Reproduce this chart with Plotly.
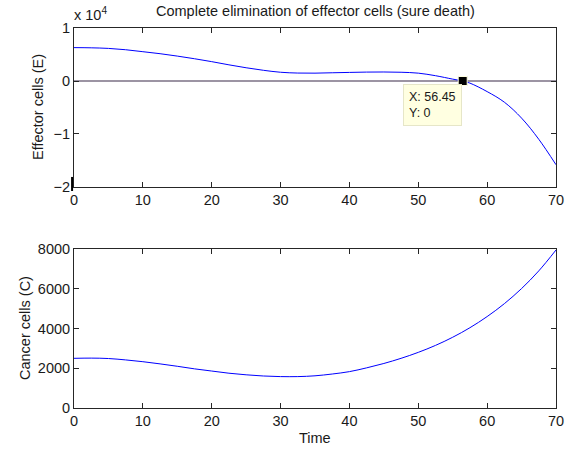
import plotly.graph_objects as go

# ---- data ----
t_E = [0, 2.5, 5, 7.5, 10, 12.5, 15, 17.5, 20, 22.5, 25, 27.5, 30, 32.5, 35, 37.5,
       40, 42.5, 45, 47.5, 50, 52.5, 55, 56.45, 57.5, 60, 62.5, 65, 67.5, 70]
E_vals = [6300, 6260, 6150, 5900, 5530, 5150, 4700, 4200, 3650, 3050, 2500, 2020, 1650,
          1500, 1480, 1550, 1620, 1680, 1700, 1650, 1480, 1000, 350, 0, -400, -2000,
          -4000, -7000, -11000, -15800]

t_C = [0, 2.5, 5, 7.5, 10, 12.5, 15, 17.5, 20, 22.5, 25, 27.5, 30, 32.5, 35, 37.5,
       40, 42.5, 45, 47.5, 50, 52.5, 55, 57.5, 60, 62.5, 65, 67.5, 70]
C_vals = [2500, 2510, 2490, 2420, 2330, 2220, 2100, 1970, 1860, 1750, 1670, 1610, 1580,
          1580, 1620, 1710, 1830, 2020, 2240, 2500, 2800, 3150, 3560, 4040, 4600, 5250,
          6010, 6900, 7950]

zero_t = [0, 70]
zero_E = [0, 0]
tip_x = [56.45]
tip_y = [0]

x_ticks = [0, 10, 20, 30, 40, 50, 60, 70]
E_ticks = [-20000, -10000, 0, 10000]
E_ticktext = ["\u22122", "\u22121", "0", "1"]
C_ticks = [0, 2000, 4000, 6000, 8000]

FONT = "Liberation Sans, Arial, sans-serif"
AX = "#262626"
TXT = "#1a1a1a"
FS = 14.5

fig = go.Figure()
fig.add_trace(go.Scatter(x=zero_t, y=zero_E, mode="lines",
                         line=dict(color="#7b7184", width=1.5),
                         xaxis="x", yaxis="y", hoverinfo="skip"))
fig.add_trace(go.Scatter(x=t_E, y=E_vals, mode="lines", line_shape="spline",
                         line=dict(color="#0000ff", width=1),
                         xaxis="x", yaxis="y"))
fig.add_trace(go.Scatter(x=tip_x, y=tip_y, mode="markers",
                         marker=dict(symbol="square", size=9, color="black",
                                     line=dict(color="#ffffe1", width=1)),
                         xaxis="x", yaxis="y", cliponaxis=False))
fig.add_trace(go.Scatter(x=t_C, y=C_vals, mode="lines", line_shape="spline",
                         line=dict(color="#0000ff", width=1),
                         xaxis="x2", yaxis="y2"))

axis_common = dict(showline=True, linecolor=AX, linewidth=1, mirror="ticks",
                   ticks="inside", ticklen=5, tickcolor=AX, showgrid=False,
                   zeroline=False, automargin=False,
                   tickfont=dict(family=FONT, size=FS, color=TXT))

fig.update_layout(
    template="none",
    width=567, height=449,
    margin=dict(l=74, r=11, t=28, b=41),
    paper_bgcolor="white", plot_bgcolor="white",
    showlegend=False,
    xaxis=dict(domain=[0, 1], range=[0, 70], tickvals=x_ticks, anchor="y", **axis_common),
    yaxis=dict(domain=[0.5816, 1.0], range=[-20000, 10000], tickvals=E_ticks,
               ticktext=E_ticktext, anchor="x", **axis_common),
    xaxis2=dict(domain=[0, 1], range=[0, 70], tickvals=x_ticks, anchor="y2", **axis_common),
    yaxis2=dict(domain=[0, 0.4184], range=[0, 8000], tickvals=C_ticks, anchor="x2",
                **axis_common),
)

def txt(text, x, y, angle=0, xanchor="center", size=FS):
    fig.add_annotation(text=text, xref="paper", yref="paper", x=x, y=y,
                       showarrow=False, xanchor=xanchor, yanchor="middle",
                       textangle=angle, font=dict(family=FONT, size=size, color=TXT))

txt("Complete elimination of effector cells (sure death)", 0.5, 1.0447)
txt("x 10<sup>4</sup>", -0.004, 1.037, xanchor="left")
txt("Effector cells (E)", -0.0747, 0.792, angle=-90)
txt("Cancer cells (C)", -0.1017, 0.2105, angle=-90)
txt("Time", 0.5, -0.079)

fig.add_annotation(text="X: 56.45<br>Y: 0", xref="x", yref="y",
                   x=47.8, y=-530, showarrow=False, xanchor="left", yanchor="top",
                   align="left", bgcolor="#ffffe1", bordercolor="#e6e6c8",
                   borderwidth=1, borderpad=5,
                   font=dict(family=FONT, size=12.5, color=TXT))
fig.add_shape(type="line", xref="paper", yref="paper", x0=-0.004, x1=-0.004,
              y0=0.571, y1=0.608, line=dict(color="black", width=2))

fig.write_html("out.html", config={"displayModeBar": False},
               post_script="document.body.style.margin='0';document.body.style.overflow='hidden';")
